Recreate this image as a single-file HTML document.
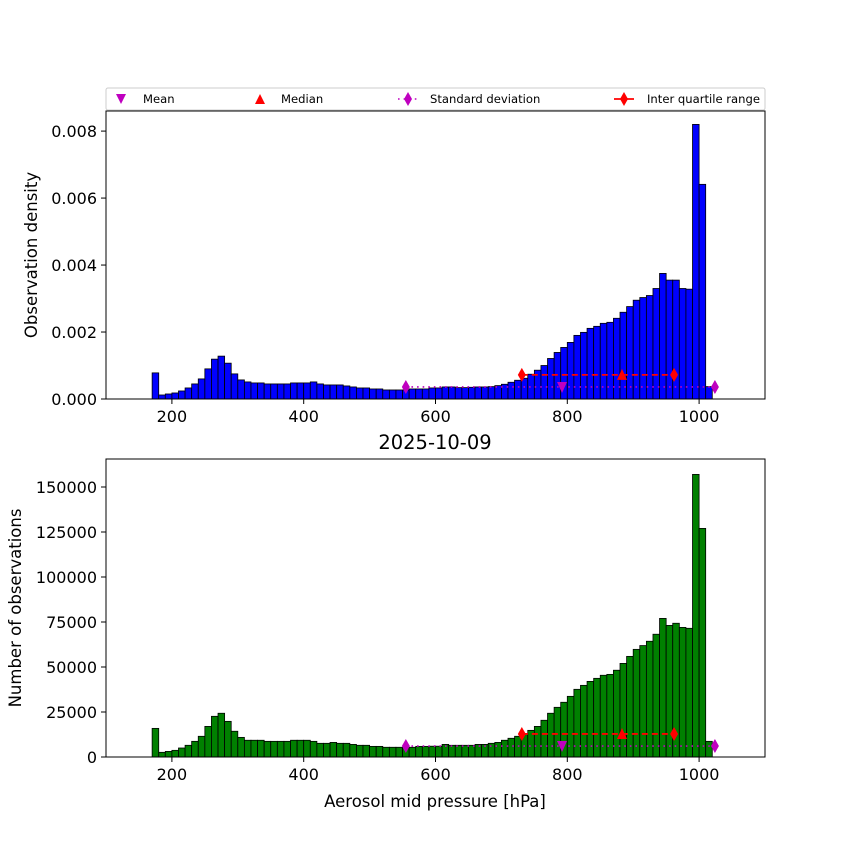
<!DOCTYPE html>
<html><head><meta charset="utf-8"><style>
body{margin:0;background:#fff;}
svg{display:block;font-family:"DejaVu Sans","Liberation Sans",sans-serif;}
</style></head><body>
<svg id="chart" width="850" height="850" viewBox="0 0 850 850" xmlns="http://www.w3.org/2000/svg">
<rect width="850" height="850" fill="#fff"/>
</svg>
<script>
const binStart = 170;
const binWidth = 10;
const densityValues = [0.00078,0.00012,0.00015,0.00018,0.00024,0.00033,0.00045,0.00060,0.00090,0.00119,
0.00128,0.00107,0.00075,0.00057,0.00051,0.00048,0.00048,0.00045,0.00045,0.00045,
0.00045,0.00048,0.00048,0.00048,0.00051,0.00045,0.00042,0.00042,0.00042,0.00039,
0.00036,0.00033,0.00033,0.00030,0.00030,0.00027,0.00027,0.00027,0.00027,0.00030,
0.00030,0.00030,0.00033,0.00033,0.00036,0.00036,0.00034,0.00034,0.00035,0.00036,
0.00036,0.00037,0.00040,0.00044,0.00050,0.00056,0.00062,0.00074,0.00086,0.00100,
0.00121,0.00139,0.00154,0.00169,0.00190,0.00199,0.00211,0.00217,0.00226,0.00229,
0.00241,0.00259,0.00276,0.00295,0.00303,0.00309,0.00330,0.00375,0.00355,0.00355,
0.00330,0.00328,0.0082,0.00641,0.00037];
const countValues = [15900,2600,3100,3700,5000,6500,8700,11500,17000,22600,
24300,19800,14300,10900,9300,9300,9300,8700,8700,8700,
8700,9300,9300,9300,8700,7600,7600,8100,7600,7600,
7000,6500,6500,5900,5900,5400,5400,5400,5400,5400,
5900,5900,6000,6000,7000,6500,6500,6500,6500,7000,
7000,7600,8100,9300,10400,11500,12600,14800,17000,20400,
24300,27600,30400,33700,37600,39800,42000,43700,45400,45900,
48200,52000,55900,59800,61900,64300,68200,77000,73100,74300,
72000,71500,157000,127000,8700];
const xTicks = [200,400,600,800,1000];
const densityTicks = [0,0.002,0.004,0.006,0.008];
const densityTickLabels = ["0.000","0.002","0.004","0.006","0.008"];
const countTicks = [0,25000,50000,75000,100000,125000,150000];
const statsX = {mean:792, median:883, iqrLow:731, iqrHigh:962, stdLow:555, stdHigh:1024};
const statsDensity = {center:0.00072, spread:0.00036};
const statsCount = {center:12800, spread:6100};

const NS="http://www.w3.org/2000/svg";
const svg=document.getElementById('chart');
function el(tag,attrs,parent){const e=document.createElementNS(NS,tag);for(const k in attrs)e.setAttribute(k,attrs[k]);(parent||svg).appendChild(e);return e;}
const xMin=100,xMax=1100,L=106,R=765;
const xs=v=>L+(v-xMin)/(xMax-xMin)*(R-L);

function panel(name,top,bottom,yMax,vals,ticks,labels,color,stats){
  const ys=v=>bottom-v/yMax*(bottom-top);
  const g=el('g',{});
  
  
  vals.forEach((v,i)=>{
    const x0=xs(binStart+i*binWidth),x1=xs(binStart+(i+1)*binWidth);
    const r=el('rect',{x:x0,y:ys(v),width:x1-x0,height:bottom-ys(v),fill:color,stroke:'#000','stroke-width':0.8},g);
    
    
  });
  const yc=ys(stats.center),yspr=ys(stats.spread);
  const sl=el('line',{x1:xs(statsX.stdLow),x2:xs(statsX.stdHigh),y1:yspr,y2:yspr,stroke:'#bf00bf','stroke-width':1.6,'stroke-dasharray':'1.6,4'},g);
  
  [statsX.stdLow,statsX.stdHigh].forEach(v=>{const d=el('path',{d:`M${xs(v)},${yspr-7}L${xs(v)+4},${yspr}L${xs(v)},${yspr+7}L${xs(v)-4},${yspr}Z`,fill:'#bf00bf'},g);
    });
  const il=el('line',{x1:xs(statsX.iqrLow),x2:xs(statsX.iqrHigh),y1:yc,y2:yc,stroke:'#f00','stroke-width':1.8,'stroke-dasharray':'6,4'},g);
  
  [statsX.iqrLow,statsX.iqrHigh].forEach(v=>{const d=el('path',{d:`M${xs(v)},${yc-7}L${xs(v)+4},${yc}L${xs(v)},${yc+7}L${xs(v)-4},${yc}Z`,fill:'#f00'},g);
    });
  const mx=xs(statsX.median);
  const md=el('path',{d:`M${mx-5},${yc+5}L${mx+5},${yc+5}L${mx},${yc-6}Z`,fill:'#f00'},g);
  
  const mn=xs(statsX.mean);
  const me=el('path',{d:`M${mn-5},${yspr-5}L${mn+5},${yspr-5}L${mn},${yspr+6}Z`,fill:'#bf00bf'},g);
  
  const fr=el('rect',{x:L,y:top,width:R-L,height:bottom-top,fill:'none',stroke:'#000','stroke-width':1},g);
  
  xTicks.forEach(t=>{el('line',{x1:xs(t),x2:xs(t),y1:bottom,y2:bottom+5,stroke:'#000'},g);
    const tx=el('text',{x:xs(t),y:bottom+23,'text-anchor':'middle','font-size':16},g);tx.textContent=t;
    });
  ticks.forEach((t,i)=>{el('line',{x1:L-5,x2:L,y1:ys(t),y2:ys(t),stroke:'#000'},g);
    const tx=el('text',{x:L-9,y:ys(t)+6,'text-anchor':'end','font-size':16},g);tx.textContent=labels[i];
    });
}
panel('density-panel',111,399,0.0086,densityValues,densityTicks,densityTickLabels,'#0000ff',statsDensity);
panel('count-panel',459,757,165555,countValues,countTicks,countTicks.map(String),'#008000',statsCount);
</script>
<div style="position:absolute;left:0;top:0;width:850px;height:850px;pointer-events:none;">
<svg width="850" height="850" style="font-family:'DejaVu Sans','Liberation Sans',sans-serif">
<g>
<rect x="106" y="88" width="659" height="22" fill="#fff" stroke="#ccc" rx="2"/>
<path d="M116,94L126,94L121,104Z" fill="#bf00bf"/>
<text x="143" y="103" font-size="11.6">Mean</text>
<path d="M255,104L265,104L260,94Z" fill="#f00"/>
<text x="281" y="103" font-size="11.6">Median</text>
<line x1="398" y1="99" x2="418" y2="99" stroke="#bf00bf" stroke-width="1.6" stroke-dasharray="1.6,4"/>
<path d="M408,92L412,99L408,106L404,99Z" fill="#bf00bf"/>
<text x="430" y="103" font-size="11.6">Standard deviation</text>
<line x1="614" y1="99" x2="634" y2="99" stroke="#f00" stroke-width="1.8"/>
<path d="M624,92L628,99L624,106L620,99Z" fill="#f00"/>
<text x="647" y="103" font-size="11.6">Inter quartile range</text>
</g>
<text transform="translate(37,255) rotate(-90)" text-anchor="middle" font-size="16.5">Observation density</text>
<text transform="translate(21,608) rotate(-90)" text-anchor="middle" font-size="16.5">Number of observations</text>
<text x="435" y="449" text-anchor="middle" font-size="19.5">2025-10-09</text>
<text x="435" y="807" text-anchor="middle" font-size="16.5">Aerosol mid pressure [hPa]</text>
</svg></div>
</body></html>
